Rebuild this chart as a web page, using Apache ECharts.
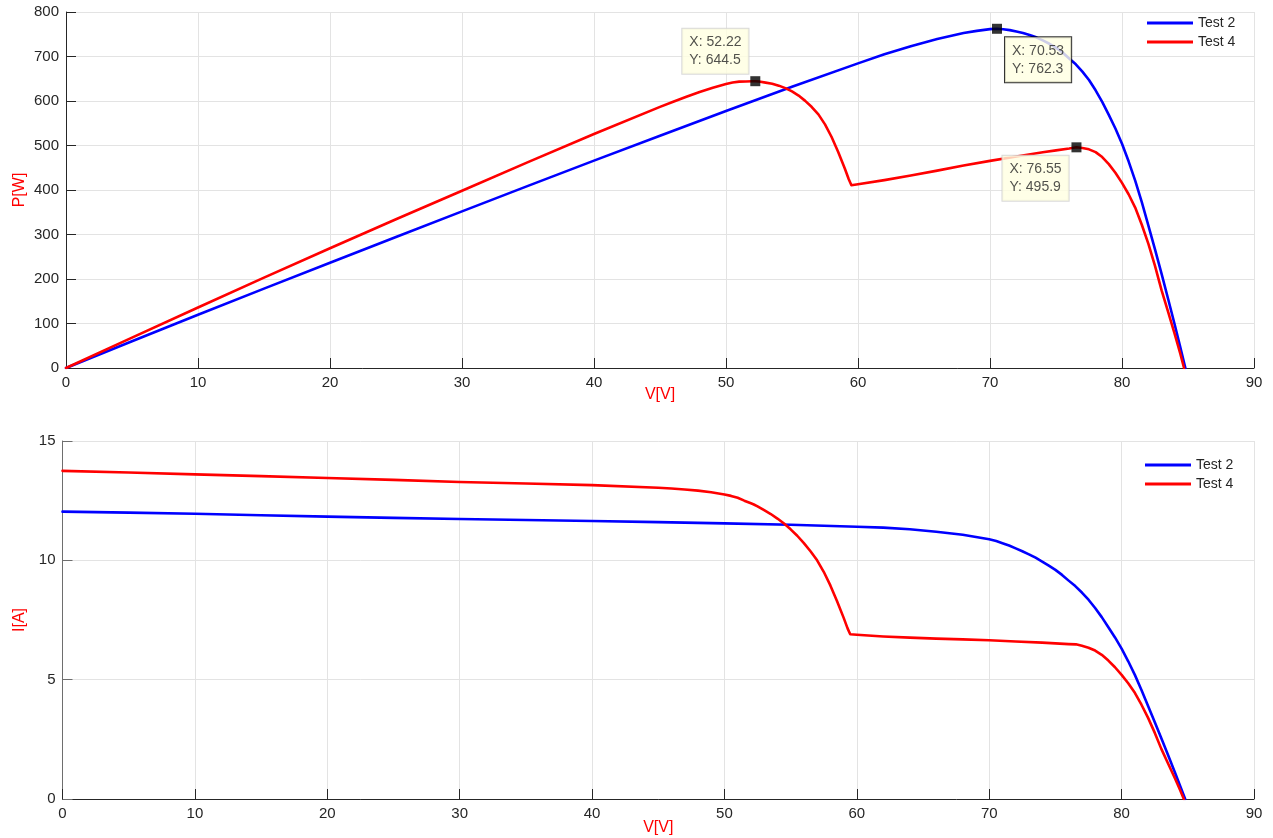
<!DOCTYPE html>
<html>
<head>
<meta charset="utf-8">
<script src="https://cdn.jsdelivr.net/npm/echarts@6/dist/echarts.min.js"></script>
<style>
html,body{margin:0;padding:0;background:#fff;}
#chart{width:1273px;height:838px;}
</style>
</head>
<body>
<div id="chart"></div>
<script>
// ---- Data ----
const xTicks = [0, 10, 20, 30, 40, 50, 60, 70, 80, 90];
const pTicks = [0, 100, 200, 300, 400, 500, 600, 700, 800];
const iTicks = [0, 5, 10, 15];

// Test 2 (blue)
const V2 = [0,5,10,15,20,25,30,35,40,45,50,55,60,62,64,66,68,69,70,70.53,71,71.5,72,72.5,73,73.5,74,74.5,75,75.5,76,76.5,77,77.5,78,78.5,79,79.5,80,80.5,81,81.5,82,82.5,83,83.5,84,84.4,84.8];
const P2 = [0,60,119.5,178.4,236.6,294.5,351.9,409.2,466,522,577.5,632,684.6,705,723.2,739.2,752.8,757.6,761.6,762.3,761.1,759.3,756,752.6,748.3,743.1,736.3,728.6,720,708.9,695.4,682.4,666,647.1,624,598.2,568.8,538.2,504,464.5,421.2,372.5,319.8,266.5,211.7,154.5,96.6,49,0];
const I2 = [12.04,12.00,11.95,11.89,11.83,11.78,11.73,11.69,11.65,11.60,11.55,11.49,11.41,11.37,11.30,11.20,11.07,10.98,10.88,10.81,10.72,10.62,10.50,10.38,10.25,10.11,9.95,9.78,9.60,9.39,9.15,8.92,8.65,8.35,8.00,7.62,7.20,6.77,6.30,5.77,5.20,4.57,3.90,3.23,2.55,1.85,1.15,0.58,0];

// Test 4 (red)
const V4 = [0,5,10,15,20,25,30,35,40,45,46,47,48,49,50,50.5,51,51.5,52,52.22,52.5,53,53.5,54,54.5,55,55.5,56,56.5,57,57.5,58,58.5,59,59.3,59.5,60,62,64,66,68,70,72,74,75,76,76.55,77,77.5,78,78.5,79,79.5,80,80.5,81,81.5,82,82.5,83,83.5,84,84.4,84.7];
const P4 = [0,68.4,136,203,269,334.3,398.4,462.7,526,586.8,598.5,609.6,620.2,629.7,638,641.4,643.6,643.8,644.3,644.5,643.7,641.3,638.8,634.5,628.9,621.5,612.2,600.3,586.5,570,547.4,519.1,485.6,448.4,424,410.6,412.8,422.2,432.6,443.5,454.9,465.5,475.2,484.7,489,493.2,495.9,494.3,491.4,485.2,474.1,458.2,438.8,416,390.4,360.5,321.9,278.8,229.4,174.3,125.3,75.6,33.8,0];
const I4 = [13.75,13.68,13.60,13.53,13.45,13.37,13.28,13.22,13.15,13.04,13.01,12.97,12.92,12.85,12.76,12.70,12.62,12.50,12.39,12.34,12.26,12.10,11.94,11.75,11.54,11.30,11.03,10.72,10.38,10.00,9.52,8.95,8.30,7.60,7.15,6.90,6.88,6.81,6.76,6.72,6.69,6.65,6.60,6.55,6.52,6.49,6.48,6.42,6.34,6.22,6.04,5.80,5.52,5.20,4.85,4.45,3.95,3.40,2.78,2.10,1.50,0.90,0.40,0];

// Data tips on the P-V plot
const tipV = [52.22, 70.53, 76.55];
const tipP = [644.5, 762.3, 495.9];

const seriesNames = ['Test 2', 'Test 4'];

// ---- Styles ----
const FONT = '"Liberation Sans", Arial, Helvetica, sans-serif';
const AX = '#262626';
const GRIDC = '#e3e3e3';
const tipOffsets = [[-73, -30], [8, 31], [-74, 31]];
const tipBorders = ['#cfcfcf', '#000000', '#cfcfcf'];

function pairs(xs, ys) { return xs.map((x, i) => [x, ys[i]]); }

function xAxisCfg(gridIndex, gap) {
  return {
    type: 'value', gridIndex, min: 0, max: 90, interval: 10,
    name: 'V[V]', nameLocation: 'middle', nameGap: gap, nameMoveOverlap: false,
    nameTextStyle: { color: '#ff0000', fontSize: 16, fontFamily: FONT },
    axisLine: { show: true, onZero: false, lineStyle: { color: AX, width: 1 } },
    axisTick: { show: true, inside: true, length: 10, lineStyle: { color: AX } },
    axisLabel: { color: AX, fontSize: 15, fontFamily: FONT, margin: 7,
      formatter: v => (xTicks.indexOf(v) >= 0 ? String(v) : '') },
    splitLine: { show: true, lineStyle: { color: GRIDC, width: 1 } }
  };
}
function yAxisCfg(gridIndex, name, max, interval, ticks, gap, lineColor) {
  return {
    type: 'value', gridIndex, min: 0, max, interval,
    name, nameLocation: 'middle', nameGap: gap, nameRotate: 90, nameMoveOverlap: false,
    nameTextStyle: { color: '#ff0000', fontSize: 16, fontFamily: FONT },
    axisLine: { show: true, onZero: false, lineStyle: { color: lineColor, width: 1 } },
    axisTick: { show: true, inside: true, length: 10, lineStyle: { color: lineColor } },
    axisLabel: { color: AX, fontSize: 15, fontFamily: FONT, margin: 7,
      formatter: v => (ticks.indexOf(v) >= 0 ? String(v) : '') },
    splitLine: { show: true, lineStyle: { color: GRIDC, width: 1 } }
  };
}
function lineSeries(name, color, xi, yi, data) {
  return {
    name, type: 'line', xAxisIndex: xi, yAxisIndex: yi, data,
    showSymbol: false, symbol: 'none', smooth: false, animation: false,
    lineStyle: { color, width: 2.6, join: 'round', cap: 'round' }, itemStyle: { color }, z: 3
  };
}
function legendCfg(left, top) {
  return {
    data: seriesNames, orient: 'vertical', left, top, padding: 0,
    icon: 'rect', itemWidth: 46, itemHeight: 3, itemGap: 3,
    textStyle: { color: AX, fontSize: 14, fontFamily: FONT, lineHeight: 16, padding: [0, 0, 0, 0] },
    selectedMode: false
  };
}

const chart = echarts.init(document.getElementById('chart'), null, { renderer: 'canvas' });
const option = {
  backgroundColor: '#ffffff',
  animation: false,
  grid: [
    { left: 66, right: 19, top: 12, height: 356 },
    { left: 62.5, right: 19, top: 441, height: 358 }
  ],
  xAxis: [xAxisCfg(0, 19), xAxisCfg(1, 21)],
  yAxis: [
    yAxisCfg(0, 'P[W]', 800, 100, pTicks, 38, AX),
    yAxisCfg(1, 'I[A]', 15, 5, iTicks, 35, '#6e6e6e')
  ],
  legend: [legendCfg(1147, 15), legendCfg(1145, 457)],
  series: [
    lineSeries('Test 2', '#0000ff', 0, 0, pairs(V2, P2)),
    lineSeries('Test 4', '#ff0000', 0, 0, pairs(V4, P4)),
    lineSeries('Test 2', '#0000ff', 1, 1, pairs(V2, I2)),
    lineSeries('Test 4', '#ff0000', 1, 1, pairs(V4, I4)),
    {
      name: 'datatips', type: 'scatter', xAxisIndex: 0, yAxisIndex: 0,
      symbol: 'rect', symbolSize: 10, z: 10, animation: false,
      itemStyle: { color: '#000000' },
      data: tipV.map((v, i) => ({
        value: [v, tipP[i]],
        label: {
          show: true, position: 'inside', offset: tipOffsets[i],
          formatter: 'X: ' + v + '\nY: ' + tipP[i],
          color: AX, fontSize: 14, lineHeight: 18, fontFamily: FONT,
          backgroundColor: '#ffffe1', borderColor: tipBorders[i], borderWidth: 1,
          padding: [5, 7, 4, 7], align: 'left'
        }
      })),
      emphasis: { disabled: true }
    }
  ]
};
chart.setOption(option);
</script>
</body>
</html>
